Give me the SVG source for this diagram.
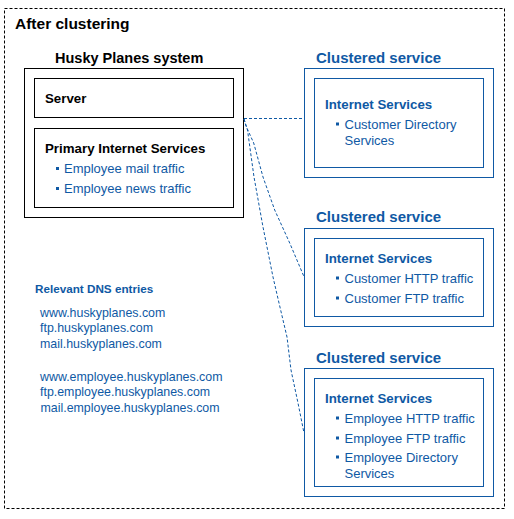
<svg xmlns="http://www.w3.org/2000/svg" width="514" height="519" viewBox="0 0 514 519">
<style>
text{font-family:"Liberation Sans",Arial,sans-serif}
.t{font-weight:bold;fill:#000}
.bt{font-weight:bold;fill:#0f59a4}
.it{font-size:13px;fill:#0f59a4}
.hd{font-size:13.3px;font-weight:bold}
.bk{fill:none;stroke:#000;stroke-width:1}
.bl{fill:none;stroke:#0f59a4;stroke-width:1}
.dot{fill:#0f59a4}
.cn{fill:none;stroke:#0f59a4;stroke-width:1;stroke-dasharray:3,2}
.dns{font-size:12.4px;fill:#0f59a4}
</style>
<rect x="0" y="0" width="514" height="519" fill="#fff"/>
<rect id="frame" x="4.5" y="8.5" width="500" height="500" fill="none" stroke="#000" stroke-dasharray="3,2"/>
<text x="15" y="29" class="t" style="font-size:15.5px">After clustering</text>

<g id="husky-system">
<text x="55" y="63" class="t" style="font-size:14.5px">Husky Planes system</text>
<rect class="bk" x="24.5" y="68.5" width="219" height="149"/>
</g>
<g id="server">
<rect class="bk" x="34.5" y="78.5" width="199" height="39"/>
<text x="45" y="103" class="t hd">Server</text>
</g>
<g id="primary-internet-services">
<rect class="bk" x="34.5" y="128.5" width="199" height="79"/>
<text x="45" y="153" class="t hd">Primary Internet Services</text>
<rect class="dot" x="56" y="167" width="3" height="3"/>
<text x="64" y="173" class="it">Employee mail traffic</text>
<rect class="dot" x="56" y="187" width="3" height="3"/>
<text x="64" y="193" class="it">Employee news traffic</text>
</g>

<g id="cluster-1">
<text x="316" y="63" class="bt" style="font-size:15px">Clustered service</text>
<rect class="bl" x="304.5" y="68.5" width="189" height="109"/>
<rect class="bl" x="314.5" y="78.5" width="169" height="89"/>
<text x="325" y="108.5" class="bt hd">Internet Services</text>
<rect class="dot" x="336" y="122.5" width="3" height="3"/>
<text x="344.5" y="128.5" class="it">Customer Directory</text>
<text x="344.5" y="144.5" class="it">Services</text>
</g>

<g id="cluster-2">
<text x="316" y="222" class="bt" style="font-size:15px">Clustered service</text>
<rect class="bl" x="304.5" y="228.5" width="189" height="98"/>
<rect class="bl" x="314.5" y="238.5" width="169" height="78"/>
<text x="325" y="262.5" class="bt hd">Internet Services</text>
<rect class="dot" x="336" y="276.5" width="3" height="3"/>
<text x="344.5" y="282.5" class="it">Customer HTTP traffic</text>
<rect class="dot" x="336" y="296.5" width="3" height="3"/>
<text x="344.5" y="302.5" class="it">Customer FTP traffic</text>
</g>

<g id="cluster-3">
<text x="316" y="362.5" class="bt" style="font-size:15px">Clustered service</text>
<rect class="bl" x="304.5" y="368.5" width="189" height="128"/>
<rect class="bl" x="314.5" y="378.5" width="169" height="108"/>
<text x="325" y="402.5" class="bt hd">Internet Services</text>
<rect class="dot" x="336" y="416.5" width="3" height="3"/>
<text x="344.5" y="422.5" class="it">Employee HTTP traffic</text>
<rect class="dot" x="336" y="436.5" width="3" height="3"/>
<text x="344.5" y="442.5" class="it">Employee FTP traffic</text>
<rect class="dot" x="336" y="455.5" width="3" height="3"/>
<text x="344.5" y="462" class="it">Employee Directory</text>
<text x="344.5" y="478" class="it">Services</text>
</g>

<g id="dns-entries">
<text x="35" y="292.5" class="bt" style="font-size:11.7px">Relevant DNS entries</text>
<text x="40" y="316.5" class="dns">www.huskyplanes.com</text>
<text x="40" y="331.5" class="dns">ftp.huskyplanes.com</text>
<text x="40" y="348" class="dns">mail.huskyplanes.com</text>
<text x="40" y="380.5" class="dns">www.employee.huskyplanes.com</text>
<text x="40" y="395.5" class="dns">ftp.employee.huskyplanes.com</text>
<text x="40.5" y="411.5" class="dns">mail.employee.huskyplanes.com</text>
</g>

<g id="connectors">
<line class="cn" x1="244" y1="118.5" x2="304" y2="118.5"/>
<polyline class="cn" points="244,119 246,126 253.7,143 263,177 274.7,210 289.7,243 303.7,276"/>
<polyline class="cn" points="244,119 247.5,130 254,177 263,227 273,277 279,303 287,337 291,370 298,403 304,433"/>
</g>
</svg>
